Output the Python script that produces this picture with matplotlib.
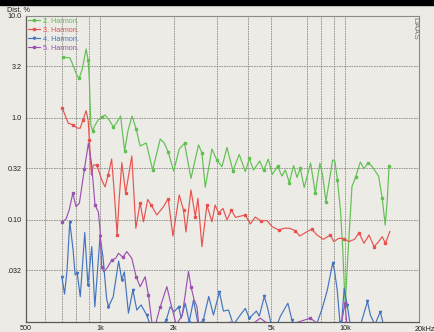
import matplotlib
matplotlib.use("Agg")
import matplotlib.pyplot as plt
from matplotlib.patches import Rectangle

# Valeurs (fréquence en Hz, distorsion en %)
green_f = [705, 756, 806, 823, 846, 879, 896, 906, 919, 934, 952, 984, 1018, 1050, 1091, 1136, 1176, 1215,
           1262, 1304, 1354, 1406, 1460, 1545, 1642, 1763, 1830, 1899, 2000, 2107, 2214, 2352, 2525, 2607,
           2690, 2864, 3000, 3147, 3298, 3487, 3700, 3918, 4067, 4230, 4487, 4651, 4860, 5046, 5304, 5520,
           5706, 5923, 6164, 6364, 6560, 6810, 7230, 7556, 7890, 8090, 8350, 8890, 9080, 9300, 9570, 9780,
           10000, 10290, 10660, 11040, 11530, 11940, 12390, 12840, 13690, 14160, 14560, 14850, 15100]
green_v = [3.96, 3.88, 2.64, 2.44, 2.96, 4.75, 3.70, 2.36, 0.854, 0.746, 0.835, 0.956, 1.02, 1.07, 0.956,
           0.816, 0.914, 1.046, 0.475, 0.763, 1.046, 0.780, 0.531, 0.569, 0.309, 0.623, 0.569, 0.464, 0.302,
           0.497, 0.565, 0.256, 0.544, 0.457, 0.209, 0.497, 0.387, 0.333, 0.514, 0.304, 0.439, 0.298, 0.401,
           0.309, 0.379, 0.306, 0.396, 0.279, 0.338, 0.270, 0.309, 0.232, 0.342, 0.261, 0.320, 0.208, 0.362,
           0.183, 0.360, 0.276, 0.151, 0.387, 0.379, 0.247, 0.125, 0.0507, 0.0145, 0.0507, 0.212, 0.264,
           0.370, 0.318, 0.364, 0.338, 0.270, 0.164, 0.0892, 0.157, 0.338]

red_f = [703, 721, 744, 780, 807, 831, 854, 879, 896, 906, 924, 941, 972, 1018, 1050, 1081, 1117, 1143,
         1176, 1198, 1229, 1274, 1350, 1402, 1460, 1506, 1567, 1619, 1707, 1818, 1899, 1985, 2107, 2193,
         2244, 2352, 2450, 2511, 2607, 2731, 2864, 2951, 3049, 3176, 3298, 3438, 3571, 3735, 3918, 4103,
         4300, 4530, 4800, 5030, 5355, 5652, 5940, 6260, 6530, 6990, 7310, 7680, 8150, 8710, 8980, 9430,
         9910, 10350, 10920, 11390, 11940, 12510, 13120, 13590, 14160, 14600, 15210]
red_v = [1.245, 1.07, 0.887, 0.854, 0.798, 0.793, 0.956, 1.179, 0.956, 0.609, 0.276, 0.346, 0.346, 0.247,
         0.211, 0.276, 0.396, 0.197, 0.0713, 0.157, 0.365, 0.184, 0.424, 0.083, 0.147, 0.096, 0.159, 0.140,
         0.112, 0.135, 0.162, 0.0697, 0.176, 0.125, 0.0763, 0.197, 0.108, 0.163, 0.0548, 0.140, 0.096,
         0.140, 0.117, 0.130, 0.100, 0.125, 0.106, 0.109, 0.112, 0.0914, 0.107, 0.098, 0.0989, 0.0863,
         0.0798, 0.083, 0.083, 0.0786, 0.0697, 0.0768, 0.0811, 0.0713, 0.0647, 0.0713, 0.0613, 0.0662,
         0.0658, 0.0613, 0.0647, 0.0745, 0.0591, 0.0713, 0.0548, 0.0600, 0.0686, 0.0591, 0.0771]

blue_f = [700, 718, 735, 754, 778, 793, 809, 832, 868, 894, 927, 954, 1002, 1031, 1065, 1084, 1133, 1193,
          1229, 1258, 1308, 1363, 1415, 1473, 1552, 1634, 1720, 1864, 1935, 2010, 2093, 2147, 2229, 2313,
          2409, 2518, 2640, 2780, 2904, 3072, 3190, 3346, 3501, 3735, 3918, 4067, 4345, 4466, 4681, 4815,
          5000, 5200, 5437, 5841, 6072, 6330, 7000, 7556, 8070, 8460, 8890, 9040, 9280, 9520, 9660, 9910,
          10190, 10490, 11560, 12330, 12670, 13220, 13910, 14240, 14500]
blue_v = [0.0278, 0.0188, 0.0323, 0.096, 0.0507, 0.0289, 0.0300, 0.0177, 0.0753, 0.0230, 0.0548, 0.0141,
          0.069, 0.0424, 0.0172, 0.0141, 0.0176, 0.0396, 0.0259, 0.0310, 0.0122, 0.0206, 0.0131, 0.0147,
          0.0117, 0.0083, 0.0083, 0.0104, 0.0141, 0.0126, 0.0141, 0.0109, 0.0153, 0.0100, 0.0164, 0.0094,
          0.0104, 0.0178, 0.0117, 0.0197, 0.0128, 0.0131, 0.0094, 0.0117, 0.0136, 0.0109, 0.0128, 0.0114,
          0.0178, 0.0141, 0.0094, 0.0085, 0.0113, 0.0153, 0.0104, 0.0088, 0.0085, 0.0087, 0.0137, 0.0206,
          0.0376, 0.0323, 0.0206, 0.0100, 0.0094, 0.0214, 0.0147, 0.0094, 0.0094, 0.0159, 0.0117, 0.0094,
          0.0126, 0.0100, 0.0083]

purple_f = [702, 728, 751, 776, 800, 825, 865, 898, 924, 956, 986, 1002, 1018, 1039, 1070, 1119, 1160,
            1191, 1241, 1288, 1350, 1406, 1460, 1530, 1578, 1629, 1665, 1763, 1876, 1953, 2049, 2168, 2298,
            2352, 2425, 2489, 2531, 2951, 3400, 3918, 4509, 5190, 7210, 8310, 9570, 9980, 10210, 14500]
purple_v = [0.096, 0.102, 0.127, 0.183, 0.135, 0.146, 0.314, 0.565, 0.362, 0.140, 0.120, 0.0797, 0.0349,
            0.0310, 0.0338, 0.0405, 0.0421, 0.0472, 0.0431, 0.049, 0.0421, 0.0278, 0.0222, 0.0278, 0.0184,
            0.0100, 0.0085, 0.0141, 0.0222, 0.0147, 0.0094, 0.0117, 0.0313, 0.0222, 0.0164, 0.0141, 0.0094,
            0.0085, 0.0100, 0.0085, 0.0109, 0.0085, 0.0109, 0.0085, 0.0085, 0.0153, 0.0085, 0.0085]

series_labels = ["2. Harmon.", "3. Harmon.", "4. Harmon.", "5. Harmon."]

x_ticks = [500, 1000, 2000, 5000, 10000]
x_ticklabels = ["500", "1k", "2k", "5k", "10k"]
y_ticks = [0.032, 0.1, 0.32, 1.0, 3.2, 10.0]
y_ticklabels = [".032", "0.10", "0.32", "1.0", "3.2", "10.0"]
x_grid = [600, 700, 800, 900, 1000, 2000, 3000, 4000, 5000, 7000, 8000, 9000, 10000]
y_grid = [0.032, 0.1, 0.32, 1.0, 3.2]

BG = "#ecebe6"
FONT = "Liberation Sans"
FS = 5.2

fig = plt.figure(figsize=(4.34, 3.32), dpi=100, facecolor=BG)
ax = fig.add_axes([26 / 434, 10 / 332, 393 / 434, 306 / 332], facecolor=BG)
ax.set_xscale("log")
ax.set_yscale("log")
ax.set_xlim(500, 20000)
ax.set_ylim(0.01, 10)

# grille pointillée
for f in x_grid:
    ax.axvline(f, color="#8a8a84", lw=0.6, ls=(0, (2, 1)), zorder=1)
for v in y_grid:
    ax.axhline(v, color="#8a8a84", lw=0.6, ls=(0, (2, 1)), zorder=1)

styles = [
    (green_f, green_v, "#62c052", "s"),
    (red_f, red_v, "#e8524e", "s"),
    (blue_f, blue_v, "#4474bf", "v"),
    (purple_f, purple_v, "#9c52b2", "s"),
]
for (fx, vy, col, mk), lab in zip(styles, series_labels):
    ax.plot(fx, vy, color=col, lw=0.85, marker=mk, ms=1.6, markevery=3, label=lab, zorder=3)

ax.minorticks_off()
ax.set_xticks(x_ticks)
ax.set_xticklabels(x_ticklabels)
ax.set_yticks(y_ticks)
ax.set_yticklabels(y_ticklabels)
ax.tick_params(axis="both", length=0, labelsize=FS, colors="#202020")
ax.tick_params(axis="x", pad=2)
ax.tick_params(axis="y", pad=3)
for t in ax.get_xticklabels() + ax.get_yticklabels():
    t.set_family(FONT)
ax.annotate("20kHz", xy=(1, 0), xycoords="axes fraction", xytext=(-3, -3), textcoords="offset points",
            ha="left", va="top", fontsize=FS, family=FONT, color="#202020", annotation_clip=False)

for side in ["left", "bottom"]:
    ax.spines[side].set_color("#5a5a5a")
    ax.spines[side].set_linewidth(0.9)
for side in ["top", "right"]:
    ax.spines[side].set_color("#8a8a8a")
    ax.spines[side].set_linewidth(0.8)

leg = ax.legend(loc="upper left", bbox_to_anchor=(0.004, 0.995), frameon=False,
                labelcolor="linecolor", handlelength=1.7, handletextpad=0.4, labelspacing=0.28,
                borderaxespad=0, borderpad=0, prop={"family": FONT, "size": FS})

fig.text(7 / 434, 1 - 10 / 332, "Dist. %", fontsize=FS, family=FONT, va="center", ha="left", color="#202020")
ax.text(0.990, 0.997, "DAAS", rotation=270, ha="center", va="top", transform=ax.transAxes,
        fontsize=6.0, family=FONT, color="#777777")

# bord noir de la capture
fig.patches.append(Rectangle((0, 1 - 5 / 332), 1, 5 / 332, transform=fig.transFigure, color="black", zorder=10))

fig.savefig("out.png", dpi=100, facecolor=BG)
